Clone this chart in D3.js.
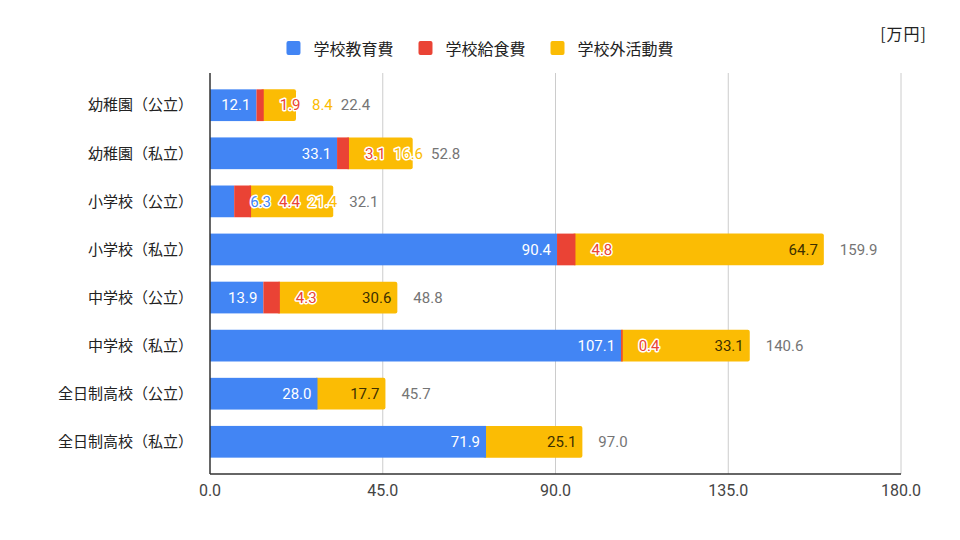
<!DOCTYPE html>
<html>
<head>
<meta charset="utf-8">
<script src="https://cdn.jsdelivr.net/npm/d3@7"></script>
<style>
  body { margin: 0; background: #fff; }
  svg { display: block; }
</style>
</head>
<body>
<svg id="chart" width="960" height="540"></svg>
<script>
// data (万円)
var categories = ["幼稚園（公立）", "幼稚園（私立）", "小学校（公立）", "小学校（私立）",
                  "中学校（公立）", "中学校（私立）", "全日制高校（公立）", "全日制高校（私立）"];
var kyoiku     = [12.1, 33.1, 6.3, 90.4, 13.9, 107.1, 28.0, 71.9];
var kyushoku   = [1.9, 3.1, 4.4, 4.8, 4.3, 0.4, 0, 0];
var gaikatsu   = [8.4, 16.6, 21.4, 64.7, 30.6, 33.1, 17.7, 25.1];
var totals     = [22.4, 52.8, 32.1, 159.9, 48.8, 140.6, 45.7, 97.0];
var seriesNames = ["学校教育費", "学校給食費", "学校外活動費"];
var xTicks = [0, 45, 90, 135, 180];

var colors = ["#4285f4", "#ea4335", "#fbbc04"];
var insideText = ["#ffffff", "#ffffff", "#3d3000"];
var cjk = "'Noto Sans CJK JP', 'Noto Sans', sans-serif";
var num = "Roboto, 'Liberation Sans', sans-serif";

var svg = d3.select("#chart");
var margin = { left: 210, right: 59, top: 73, bottom: 66 };
var width = 960 - margin.left - margin.right;
var height = 540 - margin.top - margin.bottom;

var x = d3.scaleLinear().domain([0, 180]).range([0, width]);
var y = d3.scaleBand().domain(categories).range([0, height]).padding(0.34);

var g = svg.append("g").attr("transform", "translate(" + margin.left + "," + margin.top + ")");

// grid lines
g.selectAll("line.grid")
  .data(xTicks.slice(1))
  .enter().append("line")
  .attr("x1", function(d) { return x(d); })
  .attr("x2", function(d) { return x(d); })
  .attr("y1", 0).attr("y2", height)
  .attr("stroke", "#cccccc").attr("stroke-width", 1);

// build stacked segments per row
var stackData = categories.map(function(c, i) {
  var vals = [kyoiku[i], kyushoku[i], gaikatsu[i]];
  var acc = 0, segs = [];
  vals.forEach(function(v, s) {
    if (v > 0) { segs.push({ s: s, v: v, x0: acc, x1: acc + v }); }
    acc += v;
  });
  return { cat: c, segs: segs, total: totals[i] };
});

var rows = g.selectAll("g.row")
  .data(stackData)
  .enter().append("g")
  .attr("class", "row")
  .attr("transform", function(d) { return "translate(0," + y(d.cat) + ")"; });

rows.each(function(d) {
  var row = d3.select(this);
  var bh = y.bandwidth();
  var last = d.segs[d.segs.length - 1];
  // last segment first, with rounded end, then the others on top
  row.append("rect")
    .attr("x", x(last.x0) - 3).attr("y", 0)
    .attr("width", x(last.x1) - x(last.x0) + 3).attr("height", bh)
    .attr("rx", 2).attr("fill", colors[last.s]);
  d.segs.slice(0, -1).forEach(function(sg) {
    row.append("rect")
      .attr("x", x(sg.x0)).attr("y", 0)
      .attr("width", x(sg.x1) - x(sg.x0)).attr("height", bh)
      .attr("fill", colors[sg.s]);
  });
});

// value labels, laid out left to right
var pad = 6, outGap = 16, gap = 8;
var measure = svg.append("text").attr("font-family", num).attr("font-size", 15).attr("visibility", "hidden");
function textW(t) { measure.text(t); return measure.node().getComputedTextLength(); }

rows.each(function(d) {
  var row = d3.select(this);
  var cy = y.bandwidth() / 2;
  var prevEnd = -1e9;
  d.segs.forEach(function(sg) {
    var t = d3.format(".1f")(sg.v);
    var w = textW(t);
    var a = x(sg.x0), b = x(sg.x1);
    var fits = (b - a) >= w + 2 * pad;
    var want = fits ? b - pad - w : b + outGap;
    var start = Math.max(want, prevEnd + gap);
    var inside = start >= a && start + w <= b - 2;
    var lab = row.append("text")
      .attr("x", start).attr("y", cy)
      .attr("dy", "0.35em")
      .attr("font-family", num).attr("font-size", 15)
      .text(t);
    if (inside) {
      lab.attr("fill", insideText[sg.s]);
    } else {
      lab.attr("fill", colors[sg.s])
        .attr("stroke", "#ffffff").attr("stroke-width", 3)
        .attr("stroke-linejoin", "round")
        .attr("paint-order", "stroke");
    }
    prevEnd = start + w;
  });
  var tEnd = x(d.segs[d.segs.length - 1].x1);
  row.append("text")
    .attr("x", Math.max(tEnd + outGap, prevEnd + gap))
    .attr("y", cy).attr("dy", "0.35em")
    .attr("font-family", num).attr("font-size", 15)
    .attr("fill", "#757575")
    .text(d3.format(".1f")(d.total));
});
measure.remove();

// axes
g.append("line").attr("x1", 0).attr("x2", 0).attr("y1", 0).attr("y2", height)
  .attr("stroke", "#333").attr("stroke-width", 1.5);
g.append("line").attr("x1", 0).attr("x2", width).attr("y1", height).attr("y2", height)
  .attr("stroke", "#333").attr("stroke-width", 1.5);

g.selectAll("text.tick")
  .data(xTicks)
  .enter().append("text")
  .attr("x", function(d) { return x(d); })
  .attr("y", height + 22)
  .attr("text-anchor", "middle")
  .attr("font-family", num).attr("font-size", 16)
  .attr("fill", "#444")
  .text(function(d) { return d3.format(".1f")(d); });

g.selectAll("text.cat")
  .data(categories)
  .enter().append("text")
  .attr("x", -17)
  .attr("y", function(d) { return y(d) + y.bandwidth() / 2; })
  .attr("dy", "0.35em")
  .attr("text-anchor", "end")
  .attr("font-family", cjk).attr("font-size", 15)
  .attr("fill", "#222")
  .text(function(d) { return d; });

// legend, centred
var legend = svg.append("g").attr("transform", "translate(0,49)");
var lx = 0;
var items = seriesNames.map(function(n, i) {
  var it = legend.append("g");
  it.append("rect").attr("x", 0).attr("y", -8).attr("width", 14).attr("height", 14)
    .attr("rx", 2).attr("fill", colors[i]);
  var tx = it.append("text").attr("x", 27).attr("y", 0).attr("dy", "0.35em")
    .attr("font-family", cjk).attr("font-size", 16).attr("fill", "#222").text(n);
  var w = 27 + tx.node().getComputedTextLength();
  it.attr("transform", "translate(" + lx + ",0)");
  lx += w + 25;
  return it;
});
var legW = lx - 25;
legend.attr("transform", "translate(" + (480 - legW / 2) + ",49)");

// unit
svg.append("text")
  .attr("x", 927).attr("y", 40)
  .attr("text-anchor", "end")
  .attr("font-family", cjk).attr("font-size", 16)
  .attr("letter-spacing", 1)
  .attr("fill", "#222")
  .text("[万円]");
</script>
</body>
</html>
